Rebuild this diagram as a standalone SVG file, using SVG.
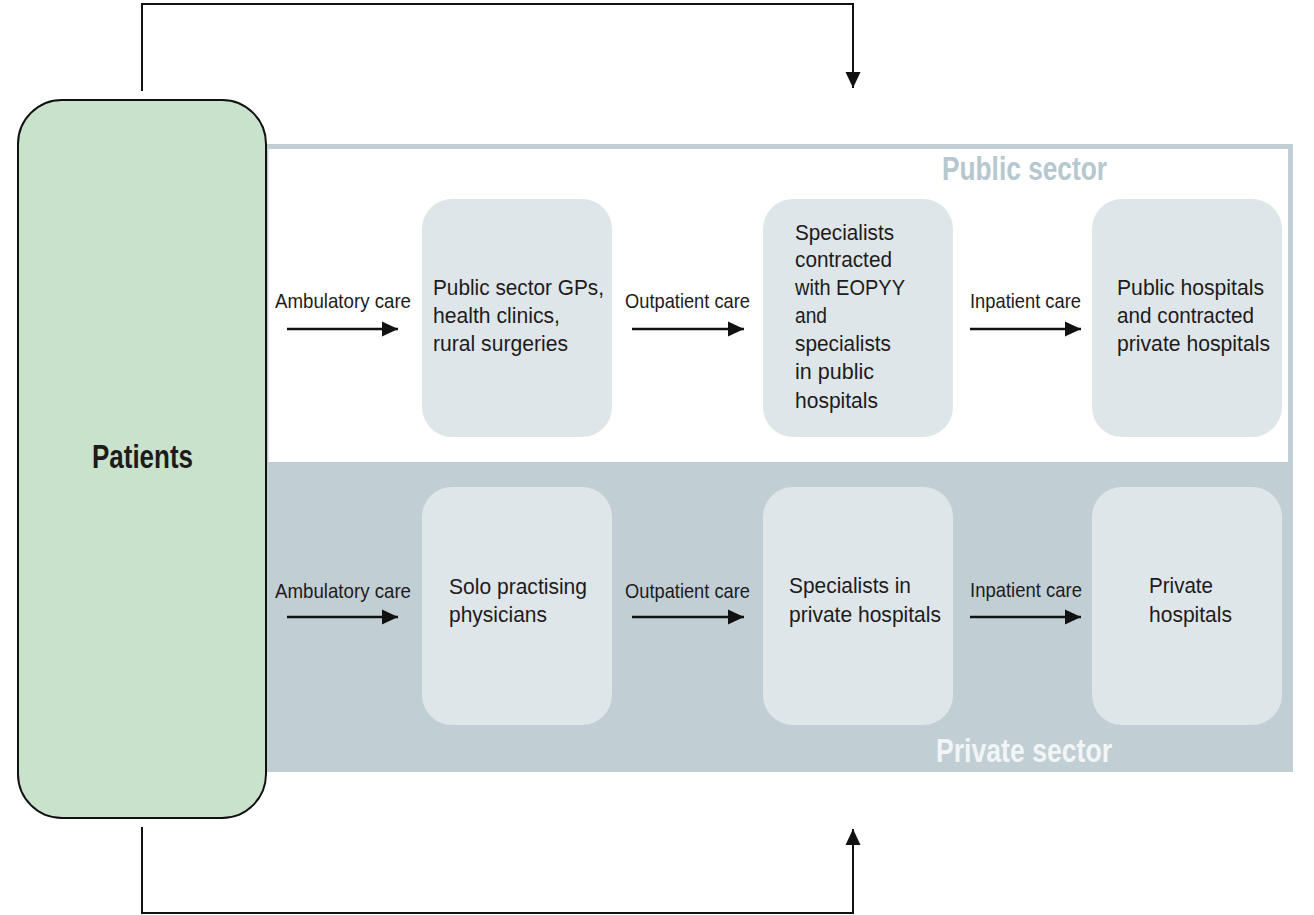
<svg xmlns="http://www.w3.org/2000/svg" width="1314" height="915" viewBox="0 0 1314 915">
<style>
.t{font-family:"Liberation Sans Narrow","Liberation Sans",Arial,sans-serif;fill:#1e1b1c;}
.lbl{font-size:21px;}
.box{font-size:22.5px;}
.node{fill:#dfe6e9;}
.sec{font-family:"Liberation Sans Narrow","Liberation Sans",Arial,sans-serif;font-weight:bold;font-size:33px;}
.conn{fill:none;stroke:#111;stroke-width:2;}
.arr{fill:none;stroke:#111;stroke-width:2.6;}
</style>
<defs>
<marker id="ah" viewBox="0 0 16 16" refX="16" refY="8" markerWidth="16" markerHeight="16" markerUnits="userSpaceOnUse" orient="auto">
<path d="M0,0.5 L16,8 L0,15.5 Z" fill="#111"/>
</marker>
</defs>
<rect width="1314" height="915" fill="#ffffff"/>

<g id="public-sector">
<rect x="266" y="146.5" width="1024.5" height="318" fill="#ffffff" stroke="#c1cfd5" stroke-width="5"/>
<text class="sec" x="942" y="180" fill="#b5c8cf" textLength="165" lengthAdjust="spacingAndGlyphs">Public sector</text>
</g>
<g id="private-sector">
<rect x="266" y="463" width="1027" height="309" fill="#c1cfd5"/>
<text class="sec" x="936" y="762" fill="#f2f5f6" textLength="176" lengthAdjust="spacingAndGlyphs">Private sector</text>
</g>

<g id="patients">
<rect x="18" y="100" width="248" height="718" rx="44" ry="44" fill="#c9e2cb" stroke="#111" stroke-width="2"/>
<text class="t" x="92" y="468" font-size="33" font-weight="bold" textLength="101" lengthAdjust="spacingAndGlyphs">Patients</text>
</g>

<g id="pub-gps">
<rect class="node" x="422" y="199" width="190" height="238" rx="30"/>
<text class="t box"><tspan x="433" y="295" textLength="171" lengthAdjust="spacingAndGlyphs">Public sector GPs,</tspan><tspan x="433" y="323" textLength="127" lengthAdjust="spacingAndGlyphs">health clinics,</tspan><tspan x="433" y="351" textLength="135" lengthAdjust="spacingAndGlyphs">rural surgeries</tspan></text>
</g>
<g id="pub-specialists">
<rect class="node" x="763" y="199" width="190" height="238" rx="30"/>
<text class="t box"><tspan x="795" y="240" textLength="99" lengthAdjust="spacingAndGlyphs">Specialists</tspan><tspan x="795" y="267" textLength="97" lengthAdjust="spacingAndGlyphs">contracted</tspan><tspan x="795" y="295" textLength="110" lengthAdjust="spacingAndGlyphs">with EOPYY</tspan><tspan x="795" y="323" textLength="32" lengthAdjust="spacingAndGlyphs">and</tspan><tspan x="795" y="351" textLength="96" lengthAdjust="spacingAndGlyphs">specialists</tspan><tspan x="795" y="379" textLength="79" lengthAdjust="spacingAndGlyphs">in public</tspan><tspan x="795" y="408" textLength="83" lengthAdjust="spacingAndGlyphs">hospitals</tspan></text>
</g>
<g id="pub-hospitals">
<rect class="node" x="1092" y="199" width="190" height="238" rx="30"/>
<text class="t box"><tspan x="1117" y="295" textLength="147" lengthAdjust="spacingAndGlyphs">Public hospitals</tspan><tspan x="1117" y="323" textLength="137" lengthAdjust="spacingAndGlyphs">and contracted</tspan><tspan x="1117" y="351" textLength="153" lengthAdjust="spacingAndGlyphs">private hospitals</tspan></text>
</g>

<g id="priv-solo">
<rect class="node" x="422" y="487" width="190" height="238" rx="30"/>
<text class="t box"><tspan x="449" y="594" textLength="138" lengthAdjust="spacingAndGlyphs">Solo practising</tspan><tspan x="449" y="622" textLength="98" lengthAdjust="spacingAndGlyphs">physicians</tspan></text>
</g>
<g id="priv-specialists">
<rect class="node" x="763" y="487" width="190" height="238" rx="30"/>
<text class="t box"><tspan x="789" y="593" textLength="122" lengthAdjust="spacingAndGlyphs">Specialists in</tspan><tspan x="789" y="622" textLength="152" lengthAdjust="spacingAndGlyphs">private hospitals</tspan></text>
</g>
<g id="priv-hospitals">
<rect class="node" x="1092" y="487" width="190" height="238" rx="30"/>
<text class="t box"><tspan x="1149" y="593" textLength="64" lengthAdjust="spacingAndGlyphs">Private</tspan><tspan x="1149" y="622" textLength="83" lengthAdjust="spacingAndGlyphs">hospitals</tspan></text>
</g>

<g id="connectors">
<path class="conn" d="M142,91 V4 H853 V88" marker-end="url(#ah)"/>
<path class="conn" d="M142,827 V913 H853 V829" marker-end="url(#ah)"/>
<line class="arr" x1="287" y1="329" x2="398" y2="329" marker-end="url(#ah)"/>
<line class="arr" x1="632" y1="329" x2="744" y2="329" marker-end="url(#ah)"/>
<line class="arr" x1="970" y1="329" x2="1081" y2="329" marker-end="url(#ah)"/>
<line class="arr" x1="287" y1="617" x2="398" y2="617" marker-end="url(#ah)"/>
<line class="arr" x1="632" y1="617" x2="744" y2="617" marker-end="url(#ah)"/>
<line class="arr" x1="970" y1="617" x2="1081" y2="617" marker-end="url(#ah)"/>
<text class="t lbl" x="275" y="308" textLength="136" lengthAdjust="spacingAndGlyphs">Ambulatory care</text>
<text class="t lbl" x="625" y="308" textLength="125" lengthAdjust="spacingAndGlyphs">Outpatient care</text>
<text class="t lbl" x="970" y="308" textLength="111" lengthAdjust="spacingAndGlyphs">Inpatient care</text>
<text class="t lbl" x="275" y="598" textLength="136" lengthAdjust="spacingAndGlyphs">Ambulatory care</text>
<text class="t lbl" x="625" y="598" textLength="125" lengthAdjust="spacingAndGlyphs">Outpatient care</text>
<text class="t lbl" x="970" y="597" textLength="112" lengthAdjust="spacingAndGlyphs">Inpatient care</text>
</g>
</svg>
